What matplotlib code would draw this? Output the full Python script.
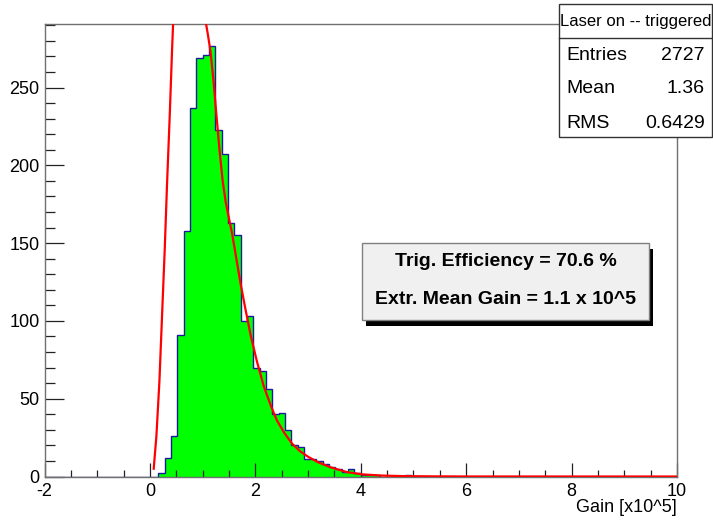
import matplotlib

matplotlib.use("Agg")
import matplotlib.pyplot as plt
import numpy as np
from matplotlib.patches import Rectangle
from matplotlib.ticker import MultipleLocator

plt.rcParams["font.family"] = ["Liberation Sans", "DejaVu Sans"]
plt.rcParams["axes.unicode_minus"] = False

# histogram definition: 100 bins over [-2, 10] (gain in units of 1e5)
hist_lo, hist_hi, n_bins = -2.0, 10.0, 100
first_filled_bin = 18  # lower edge 0.16
filled_counts = [2, 12, 26, 91, 158, 237, 269, 271, 277, 223,
                 207, 163, 155, 100, 103, 70, 68, 56, 40, 41,
                 30, 20, 19, 11, 11, 10, 8, 6, 5, 3,
                 5, 2, 1, 1, 1, 0, 0, 0, 0, 1]

# fitted curves
left_fit_x = [0.072, 0.123, 0.180, 0.231, 0.281, 0.326, 0.376, 0.421, 0.440, 0.46]
left_fit_y = [5, 26, 61, 104, 146, 189, 232, 275, 291, 308]
right_fit_x = [1.04, 1.10, 1.15, 1.21, 1.26, 1.32, 1.38, 1.44, 1.50, 1.56,
               1.64, 1.72, 1.81, 1.91, 2.03, 2.16, 2.30, 2.41, 2.55, 2.70,
               2.85, 3.00, 3.20, 3.42, 3.74, 4.05, 4.40, 4.80, 5.3, 6.0, 10.0]
right_fit_y = [296, 284, 273, 253, 233, 210, 190, 176, 166, 156,
               140, 124, 108, 91, 74, 58, 45, 36, 28, 21,
               16.2, 12.7, 9.0, 6.0, 2.8, 1.3, 0.6, 0.25, 0.1, 0.02, 0]

stats_title = "Laser on -- triggered"
stats_names = ["Entries", "Mean", "RMS"]
stats_values = ["2727", "1.36", "0.6429"]
info_lines = ["Trig. Efficiency = 70.6 %", "Extr. Mean Gain = 1.1 x 10^5"]
x_title = "Gain [x10^5]"

W, H = 713, 520


def fx(x):
    return x / W


def fy(y):
    return 1 - y / H


counts = np.zeros(n_bins)
counts[first_filled_bin:first_filled_bin + len(filled_counts)] = filled_counts
edges = np.linspace(hist_lo, hist_hi, n_bins + 1)

fig = plt.figure(figsize=(W / 100, H / 100), dpi=100)
ax = fig.add_axes([fx(44.5), fy(476.5), fx(677 - 44.5), (476.5 - 24) / H])

ax.stairs(counts, edges, fill=True, color="#00ff00", linewidth=0, zorder=1)
ax.stairs(counts, edges, color="#1a1a9e", linewidth=1.0, zorder=2)
ax.plot(left_fit_x, left_fit_y, color="red", lw=1.6, zorder=3)
ax.plot(right_fit_x, right_fit_y, color="red", lw=1.6, zorder=3)

ax.set_xlim(hist_lo, hist_hi)
ax.set_ylim(0, 290.85)
ax.xaxis.set_major_locator(MultipleLocator(2))
ax.xaxis.set_minor_locator(MultipleLocator(0.5))
ax.yaxis.set_major_locator(MultipleLocator(50))
ax.yaxis.set_minor_locator(MultipleLocator(10))
ax.tick_params(axis="both", which="both", direction="in", top=False,
               right=False, color="#222222", width=0.9, labelsize=13)
ax.tick_params(axis="y", which="major", length=13.5, pad=3.5)
ax.tick_params(axis="y", which="minor", length=7)
ax.tick_params(axis="x", which="major", length=9.8, pad=5)
ax.tick_params(axis="x", which="minor", length=5)
for sp in ax.spines.values():
    sp.set_color("#707070")
    sp.set_linewidth(1.0)

fig.text(fx(677), fy(508), x_title, ha="right", va="center", fontsize=13)

# stats box
fig.patches.append(Rectangle((fx(558.5), fy(136.5)), fx(711.5 - 558.5),
                             (136.5 - 4) / H, transform=fig.transFigure,
                             facecolor="white", edgecolor="#333333", lw=1.0,
                             zorder=5))
fig.lines.append(plt.Line2D([fx(558.5), fx(711.5)], [fy(37.5), fy(37.5)],
                            transform=fig.transFigure, color="#333333",
                            lw=1.0, zorder=6))
fig.text(fx(636), fy(21.5), stats_title, ha="center", va="center",
         fontsize=12, zorder=7)
for i, (name, val) in enumerate(zip(stats_names, stats_values)):
    y = [55, 88.5, 123][i]
    fig.text(fx(566), fy(y), name, ha="left", va="center", fontsize=14, zorder=7)
    fig.text(fx(705), fy(y), val, ha="right", va="center", fontsize=14, zorder=7)

# efficiency box with shadow
fig.patches.append(Rectangle((fx(366), fy(326)), fx(653 - 366), (326 - 249) / H,
                             transform=fig.transFigure, facecolor="black",
                             edgecolor="none", zorder=5))
fig.patches.append(Rectangle((fx(362), fy(320)), fx(649 - 362), (320 - 243) / H,
                             transform=fig.transFigure, facecolor="#f0f0f0",
                             edgecolor="#808080", lw=1.0, zorder=6))
for line, y in zip(info_lines, [262, 299]):
    fig.text(fx(505.5), fy(y), line, ha="center", va="center", fontsize=14,
             fontweight="bold", zorder=7)

fig.savefig("out.png", dpi=100)
